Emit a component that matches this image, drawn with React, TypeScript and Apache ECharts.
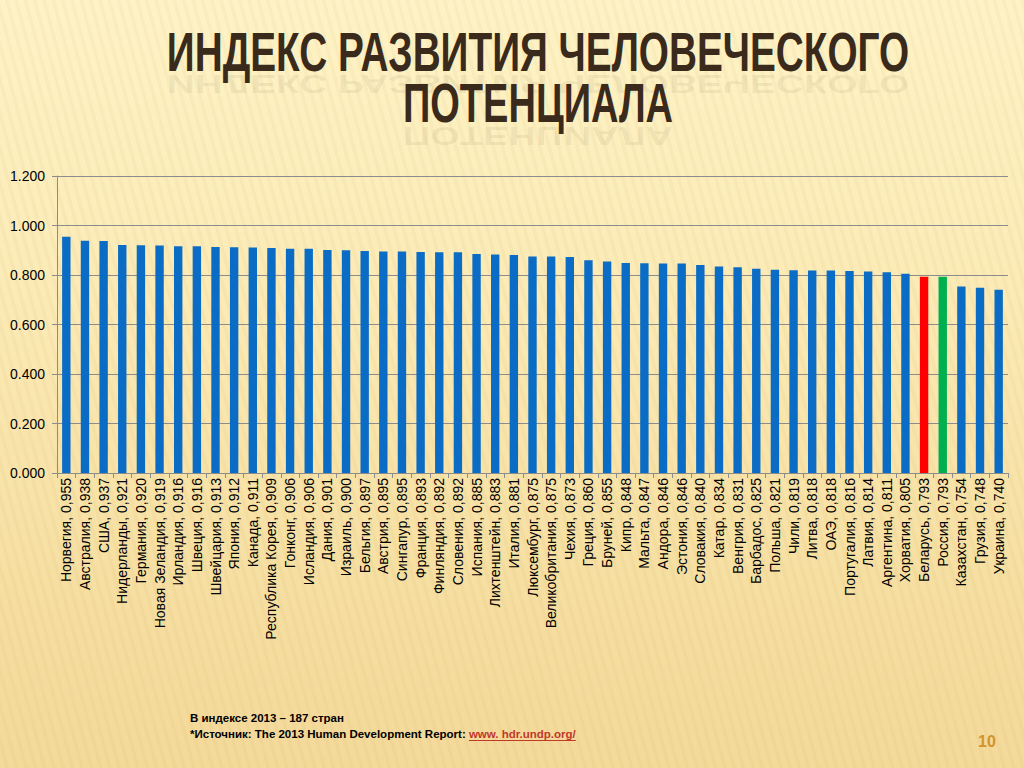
import React, { useEffect, useRef } from "react";
import * as echarts from "echarts";

const countries = [
  "Норвегия", "Австралия", "США", "Нидерланды", "Германия", "Новая Зеландия",
  "Ирландия", "Швеция", "Швейцария", "Япония", "Канада", "Республика Корея",
  "Гонконг", "Исландия", "Дания", "Израиль", "Бельгия", "Австрия", "Сингапур",
  "Франция", "Финляндия", "Словения", "Испания", "Лихтенштейн", "Италия",
  "Люксембург", "Великобритания", "Чехия", "Греция", "Бруней", "Кипр", "Мальта",
  "Андора", "Эстония", "Словакия", "Катар", "Венгрия", "Барбадос", "Польша",
  "Чили", "Литва", "ОАЭ", "Португалия", "Латвия", "Аргентина", "Хорватия",
  "Беларусь", "Россия", "Казахстан", "Грузия", "Украина",
];

const hdiValues = [
  0.955, 0.938, 0.937, 0.921, 0.92, 0.919, 0.916, 0.916, 0.913, 0.912, 0.911,
  0.909, 0.906, 0.906, 0.901, 0.9, 0.897, 0.895, 0.895, 0.893, 0.892, 0.892,
  0.885, 0.883, 0.881, 0.875, 0.875, 0.873, 0.86, 0.855, 0.848, 0.847, 0.846,
  0.846, 0.84, 0.834, 0.831, 0.825, 0.821, 0.819, 0.818, 0.818, 0.816, 0.814,
  0.811, 0.805, 0.793, 0.793, 0.754, 0.748, 0.74,
];

const highlight: Record<string, string> = {
  "Беларусь": "#ff0000",
  "Россия": "#00b050",
};

const yTicks = [0, 0.2, 0.4, 0.6, 0.8, 1.0, 1.2];

const titleLines = ["ИНДЕКС РАЗВИТИЯ ЧЕЛОВЕЧЕСКОГО", "ПОТЕНЦИАЛА"];
const noteLine1 = "В индексе 2013 – 187 стран";
const noteLine2 = "*Источник: The 2013 Human Development Report: ";
const noteLink = "www. hdr.undp.org/";
const pageNumber = "10";

function measure(text: string, font: string): number {
  const c = document.createElement("canvas");
  const ctx = c.getContext("2d");
  if (!ctx) return text.length * 10;
  ctx.font = font;
  return ctx.measureText(text).width;
}

export default function App() {
  const ref = useRef<HTMLDivElement>(null);

  useEffect(() => {
    document.body.style.margin = "0";
    if (!ref.current) return;
    const chart = echarts.init(ref.current, null, { renderer: "svg" });
    const labels = countries.map(
      (c, i) => `${c}, ${hdiValues[i].toFixed(3).replace(".", ",")}`
    );
    const titleFont = "bold 56px 'Liberation Sans', Arial, sans-serif";
    const titleColor = "#3a2a1c";
    const titleCenterX = 538;
    const titleMidY = [51, 103];
    const titleWidths = [743, 270];

    const graphics: any[] = [];
    titleLines.forEach((t, i) => {
      const w = measure(t, titleFont);
      const sx = titleWidths[i] / w;
      graphics.push({
        type: "text",
        x: titleCenterX,
        y: titleMidY[i] + 33,
        scaleX: sx,
        scaleY: -0.45,
        style: {
          text: t,
          font: titleFont,
          fill: titleColor,
          align: "center",
          verticalAlign: "middle",
          opacity: 0.07,
        },
        z: 9,
      });
      graphics.push({
        type: "text",
        x: titleCenterX,
        y: titleMidY[i],
        scaleX: sx,
        style: {
          text: t,
          font: titleFont,
          fill: titleColor,
          align: "center",
          verticalAlign: "middle",
        },
        z: 10,
      });
    });

    const noteFont = "bold 11.5px 'Liberation Sans', Arial, sans-serif";
    const linkStart = 190 + measure(noteLine2, noteFont);
    const linkEnd = linkStart + measure(noteLink, noteFont);

    graphics.push(
      {
        type: "line",
        shape: { x1: 65, y1: 118, x2: 1024, y2: 118 },
        style: {
          stroke: new echarts.graphic.LinearGradient(0, 0, 1, 0, [
            { offset: 0, color: "rgba(224,166,64,0)" },
            { offset: 0.2, color: "rgba(224,166,64,1)" },
            { offset: 1, color: "rgba(224,166,64,1)" },
          ]),
          lineWidth: 2,
        },
        z: 5,
      },
      {
        type: "text",
        x: 190,
        y: 712,
        style: { text: noteLine1, font: noteFont, fill: "#000" },
      },
      {
        type: "text",
        x: 190,
        y: 728,
        style: {
          text: `{a|${noteLine2}}{b|${noteLink}}`,
          font: noteFont,
          rich: {
            a: { font: noteFont, fill: "#000" },
            b: { font: noteFont, fill: "#c0392b" },
          },
        },
      },
      {
        type: "line",
        shape: { x1: linkStart, y1: 740.5, x2: linkEnd, y2: 740.5 },
        style: { stroke: "#c0392b", lineWidth: 1 },
      },
      {
        type: "text",
        x: 978,
        y: 733,
        style: {
          text: pageNumber,
          font: "bold 16px 'Liberation Sans', Arial, sans-serif",
          fill: "#d4922a",
        },
      }
    );

    chart.setOption({
      animation: false,
      backgroundColor: "transparent",
      grid: { left: 57, right: 16, top: 176, bottom: 295, containLabel: false },
      xAxis: {
        type: "category",
        data: labels,
        boundaryGap: true,
        axisLine: { show: true, lineStyle: { color: "#8c8c8c" } },
        axisTick: { show: true, length: 5, lineStyle: { color: "#8c8c8c" } },
        axisLabel: {
          interval: 0,
          rotate: 90,
          margin: 5,
          fontSize: 14,
          color: "#000",
          fontFamily: "'Liberation Sans', Arial, sans-serif",
        },
      },
      yAxis: {
        type: "value",
        min: yTicks[0],
        max: yTicks[yTicks.length - 1],
        interval: 0.2,
        axisLine: { show: true, lineStyle: { color: "#8c8c8c" } },
        axisTick: { show: true, length: 5, lineStyle: { color: "#8c8c8c" } },
        splitLine: { show: true, lineStyle: { color: "#8c8c8c", width: 1 } },
        axisLabel: {
          fontSize: 14,
          color: "#000",
          margin: 12,
          fontFamily: "'Liberation Sans', Arial, sans-serif",
          formatter: (v: number) => v.toFixed(3),
        },
      },
      series: [
        {
          type: "bar",
          barWidth: "45%",
          data: hdiValues.map((v, i) => ({
            value: v,
            itemStyle: { color: highlight[countries[i]] || "#0a6cc4" },
          })),
        },
      ],
      graphic: graphics,
    });
    return () => chart.dispose();
  }, []);

  return (
    <div
      style={{
        width: 1024,
        height: 768,
        position: "relative",
        background:
          "repeating-linear-gradient(75deg, rgba(255,255,255,0) 0px, rgba(255,255,255,0) 5px, rgba(200,160,80,0.07) 6px, rgba(200,160,80,0.07) 9px), linear-gradient(180deg, #fef3c6 0%, #fbeab5 40%, #f6dfa2 75%, #f3d99a 100%)",
      }}
    >
      <div ref={ref} style={{ width: 1024, height: 768 }} />
    </div>
  );
}
